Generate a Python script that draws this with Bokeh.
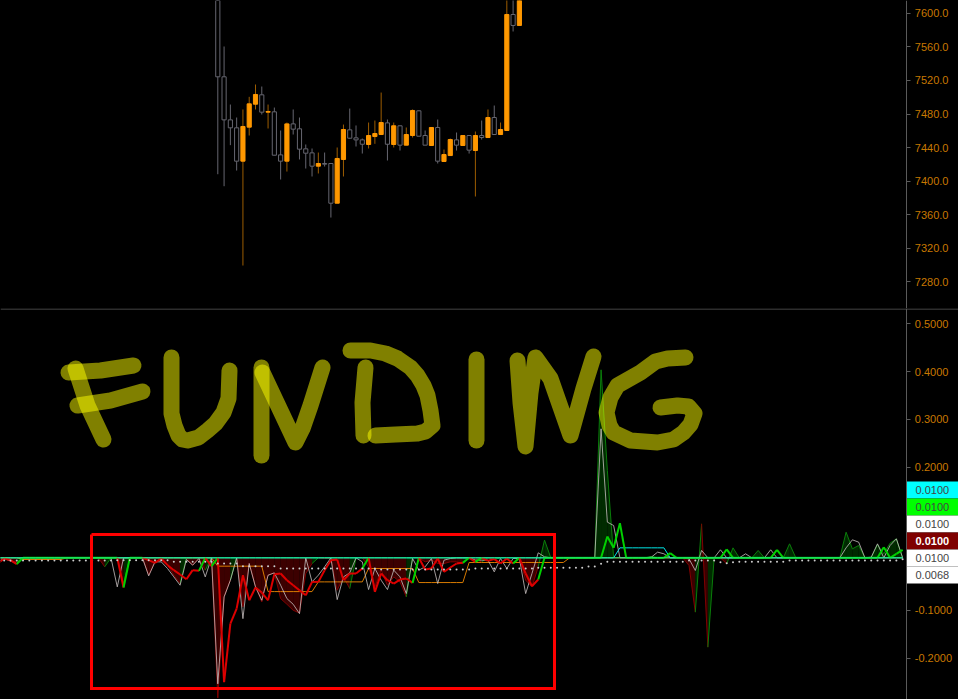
from bokeh.plotting import figure
from bokeh.layouts import column
from bokeh.core.properties import value
from bokeh.models import Range1d, LinearAxis, FixedTicker, NumeralTickFormatter
from bokeh.embed import file_html
from bokeh.resources import INLINE

# ---------- data ----------
candle_index = list(range(35, 84))
highs = [7660,7560.6,7491.3,7475.8,7485.4,7500.5,7515.2,7512.8,7491.3,7487.7,7460.3,7469.8,7485.4,7475.8,7443.6,7438.8,7434.0,7434.0,7420.9,7440.0,7467.4,7486.5,7466.3,7450.7,7469.8,7472.2,7505.6,7473.4,7469.8,7465.9,7463.9,7485.4,7484.2,7460.3,7463.9,7473.4,7437.6,7450.7,7457.9,7454.3,7454.3,7459.1,7472.2,7485.4,7490.1,7469.8,7650,7650,7650]
lows = [7408.1,7393.8,7442.8,7412.5,7299.1,7454.3,7485.4,7479.4,7462.7,7430.8,7401.8,7411.3,7455.5,7425.7,7414.9,7405.4,7409.0,7417.3,7356.4,7373.5,7405.4,7450.7,7441.2,7432.8,7438.8,7444.4,7455.5,7424.5,7440.0,7436.4,7442.8,7451.9,7453.5,7442.8,7442.4,7420.9,7423.3,7430.4,7436.4,7442.4,7432.8,7381.5,7449.5,7451.9,7455.5,7455.5,7460.3,7578.5,7585.7]
body_tops = [7650,7524.4,7473.0,7463.5,7465.1,7492.1,7503.3,7502.9,7483.0,7482.6,7431.2,7468.2,7468.2,7462.3,7438.4,7433.6,7420.9,7420.9,7420.9,7426.9,7461.5,7461.1,7451.5,7449.1,7454.3,7456.7,7469.8,7469.4,7465.9,7465.9,7455.5,7484.2,7483.8,7454.3,7463.9,7463.9,7431.6,7449.5,7449.1,7454.3,7454.3,7454.3,7454.3,7475.8,7475.8,7461.5,7598.8,7598.8,7650]
body_bottoms = [7524.4,7473.0,7463.5,7423.7,7423.7,7464.3,7491.7,7482.2,7482.2,7430.8,7423.7,7423.7,7461.9,7438.0,7433.2,7417.7,7417.7,7420.1,7373.5,7373.5,7425.7,7451.1,7449.1,7443.9,7443.6,7453.1,7455.5,7443.9,7443.6,7442.8,7442.8,7454.3,7453.5,7442.8,7442.4,7423.7,7423.3,7430.4,7442.8,7442.4,7436.8,7436.4,7451.9,7451.9,7455.5,7455.5,7460.3,7585.7,7585.7]
rising = [0,0,0,0,1,1,1,0,1,0,0,1,0,0,0,0,1,0,0,1,1,0,0,0,1,1,1,0,1,0,1,1,0,0,1,0,1,1,0,1,0,1,0,1,0,1,1,0,1]

white_line = [0.0016,0.0086,0.0037,-0.0019,0.01,0.01,0.01,0.01,0.01,0.01,0.01,0.01,0.01,0.01,0.01,0.01,0.01,0.01,0.01,
 -0.0509,0.01,0.01,0.01,0.01,-0.0278,0.0016,0.0016,-0.0124,-0.0299,-0.0474,0.0065,-0.0054,0.0086,-0.0299,0.01,-0.2539,-0.0719,-0.0369,0.01,-0.1174,-0.0019,-0.0509,-0.0789,-0.0264,-0.0215,-0.0474,
 -0.0754,-0.0873,-0.1069,0.01,-0.0404,-0.0264,-0.0089,0.01,-0.0775,-0.0299,-0.0215,0.01,0.0016,-0.0565,-0.0124,-0.0369,-0.0565,-0.0159,-0.0299,-0.0649,0.0086,-0.0159,-0.0089,0.0086,-0.0439,0.0051,0.0086,0.01,0.01,0.01,0.0051,0.0051,0.0051,-0.0194,0.0086,-0.0124,0.0086,0.0086,-0.0649,-0.0229,0.0205,0.0121,0.01,
 0.01,0.01,0.01,0.01,0.01,0.01,0.01,0.2802,0.0847,0.0777,0.01,0.01,0.01,0.01,0.01,0.0114,0.0219,0.0184,0.01,
 0.01,0.01,0.0079,-0.0165,0.0254,0.01,0.01,0.0268,0.01,0.01,0.01,0.0184,0.01,0.01,0.01,0.0268,0.01,0.01,0.01,0.01,0.01,0.01,0.01,0.01,0.01,0.01,0.01,0.0309,0.0477,0.0428,0.01,0.0114,0.0393,0.01,0.0358,0.0498,0.01]

thick_line = [-0.0019,0.0086,0.0051,-0.0033,0.01,0.01,0.01,0.01,0.01,0.01,0.01,0.01,0.01,0.01,0.01,0.01,0.01,0.01,0.01,
 0.01,-0.0523,0.01,0.01,0.01,0.0051,-0.0005,0.0086,-0.0054,-0.0159,-0.025,-0.0348,-0.0159,-0.0173,0.01,-0.0075,0.01,-0.2504,-0.1279,-0.0964,-0.0264,-0.0789,-0.0523,-0.0628,-0.0789,-0.0243,-0.0229,
 -0.0369,-0.0474,-0.0579,-0.0684,-0.0404,-0.0404,-0.0159,0.0051,0.0065,-0.0369,-0.0229,-0.0229,-0.0124,0.01,-0.0614,-0.0229,-0.0369,-0.0439,-0.0355,-0.0334,-0.0425,0.01,-0.0145,-0.0124,0.0086,-0.0194,-0.0103,-0.0019,-0.0005,0.01,0.0016,0.01,0.0037,0.0072,-0.0019,0.0086,-0.0019,0.01,-0.0229,-0.0495,-0.0355,0.01,
 0.01,0.01,0.01,0.01,0.01,0.01,0.01,0.01,0.01,0.0547,0.0309,0.0826,0.01,0.01,0.01,0.01,0.01,0.01,0.01,0.0198,
 0.01,0.01,0.01,0.01,0.01,0.01,0.01,0.01,0.0275,0.01,0.01,0.01,0.01,0.01,0.01,0.01,0.0268,0.01,0.01,0.01,0.01,0.01,0.01,0.01,0.01,0.01,0.01,0.01,0.01,0.01,0.01,0.01,0.01,0.0323,0.01,0.0184,0.0268]

area_line = [0.005,0.008,0.003,0.0016,0.01,0.01,0.01,0.01,0.01,0.01,0.01,0.01,0.01,0.01,0.01,0.01,0.01,-0.0089,0.01,
 0.01,-0.0439,0.01,0.01,0.01,-0.0264,0.0016,0.0051,-0.0054,-0.0264,-0.0439,0.01,-0.0054,0.0086,-0.0159,0.01,-0.2833,-0.0719,-0.0369,0.01,-0.0929,-0.0019,-0.0509,-0.0824,-0.0264,-0.0215,
 -0.0754,-0.0873,-0.0999,-0.1055,-0.0229,-0.0019,0.01,0.0086,0.0086,-0.0579,-0.0299,-0.0544,0.01,0.01,-0.0089,-0.0509,-0.0159,-0.0474,-0.0299,-0.0404,-0.0719,0.01,0.01,0.0016,0.0051,-0.0019,-0.0019,0.0016,0.0016,-0.0019,0.01,0.0065,0.0016,0.01,0.0065,0.01,0.01,0.01,0.01,-0.0369,-0.0509,-0.0089,0.0471,0.01,
 0.01,0.01,0.01,0.01,0.01,0.01,0.01,0.4037,0.1929,0.01,0.01,0.01,0.01,0.01,0.01,0.0128,0.01,0.01,0.01,0.01,0.01,
 -0.0061,-0.1038,0.0812,-0.1771,0.01,0.01,-0.0026,0.0309,0.01,0.01,0.01,0.0254,0.01,0.01,0.01,0.01,0.0393,0.01,0.01,0.01,0.01,0.01,0.01,0.01,0.01,0.0637,0.0288,0.0358,0.01,0.01,0.0379,0.0184,0.0407,0.0498,0.01]

orange_line = [0.01,0.01,0.01,0.01,0.0065,0.0065,0.0065,0.0065,0.0065,0.0065,0.0065,
 0.01,0.01,0.01,0.01,0.01,0.01,0.01,0.01,0.01,0.01,0.01,0.01,0.01,0.01,0.01,0.01,0.01,0.01,0.01,0.01,0.01,0.01,0.01,0.01,
 -0.0075,-0.0075,-0.0075,-0.0075,-0.0075,-0.0075,-0.0075,-0.0075,
 -0.0607,-0.0607,-0.0607,-0.0607,-0.0607,-0.0607,-0.0607,-0.0607,
 -0.0404,-0.0404,-0.0404,-0.0404,-0.0404,-0.0404,-0.0404,-0.0404,
 -0.0124,-0.0124,-0.0124,-0.0124,-0.0124,-0.0124,-0.0124,-0.0124,
 -0.0418,-0.0418,-0.0418,-0.0418,-0.0418,-0.0418,-0.0418,-0.0418,
 0.0002,0.0002,0.0002,0.0002,0.0002,0.0002,0.0002,0.0002,0.0002,0.0002,0.0002,0.0002,0.0002,0.0002,0.0002,0.0002,
 0.01,0.01,0.01,0.01,0.01,0.01,0.01,0.01,0.01,0.01,0.01,0.01,0.01,0.01,0.01,0.01,0.01,0.01,0.01,0.01,0.01,0.01,0.01,0.01,0.01,0.01,0.01,
 0.01,0.01,0.01,0.01,0.01,0.01,0.01,0.01,0.01,0.01,0.01,0.01,0.01,0.01,0.01,0.01,0.01,0.01,0.01,0.01,0.01,0.01,0.01,0.01,0.01,0.01,0.01]

cyan_line = [0.01,0.01,0.01,0.01,0.01,0.01,0.01,0.01,0.01,0.01,0.01,0.01,0.01,0.01,0.01,0.01,0.01,0.01,0.01,0.01,
 0.01,0.01,0.01,0.01,0.01,0.01,0.01,0.01,0.01,0.01,0.01,0.01,0.01,0.01,0.01,0.01,0.01,0.01,0.01,0.01,
 0.01,0.01,0.01,0.01,0.01,0.01,0.01,0.01,0.01,0.01,0.01,0.01,0.01,0.01,0.01,0.01,0.01,0.01,0.01,0.01,
 0.01,0.01,0.01,0.01,0.01,0.01,0.01,0.01,0.01,0.01,0.01,0.01,0.01,0.01,0.01,0.01,0.01,0.01,0.01,0.01,
 0.01,0.01,0.01,0.01,0.01,0.01,0.01,0.01,0.01,0.01,0.01,0.01,0.01,0.01,0.01,0.01,0.01,0.01,0.01,
 0.0309,0.0309,0.0309,0.0309,0.0309,0.0309,0.0309,0.0309,
 0.01,0.01,0.01,0.01,0.01,0.01,0.01,0.01,0.01,0.01,0.01,0.01,0.01,0.01,0.01,0.01,0.01,0.01,0.01,
 0.01,0.01,0.01,0.01,0.01,0.01,0.01,0.01,0.01,0.01,0.01,0.01,0.01,0.01,0.01,0.01,0.01,0.01,0.01]

dot_line = [0.0044,0.0044,0.0044,0.0044,0.0044,0.0044,0.0044,0.0044,0.0044,0.0044,0.0044,0.0044,0.0044,0.0044,0.0044,0.0044,0.0044,0.0044,0.0044,
 0.0051,0.0051,0.0051,0.0051,0.0051,0.0051,0.0051,0.0051,0.0051,
 0.0016,0.0016,0.0016,0.0016,0.0016,0.0016,0.0016,
 -0.0019,-0.0019,-0.0019,-0.0019,
 -0.0075,-0.0075,-0.0075,-0.0075,-0.0075,-0.0075,
 -0.0124,-0.0124,-0.0124,-0.0124,-0.0124,-0.0124,-0.0124,-0.0124,-0.0124,-0.0124,-0.0124,-0.0124,-0.0124,-0.0124,-0.0124,-0.0124,
 -0.0145,-0.0145,-0.0145,-0.0145,-0.0145,-0.0145,-0.0145,-0.0145,-0.0145,-0.0145,-0.0145,-0.0145,-0.0145,-0.0145,-0.0145,
 -0.0124,-0.0124,-0.0124,-0.0124,-0.0124,-0.0124,-0.0124,-0.0124,-0.0124,-0.0124,
 -0.0109,-0.0109,-0.0109,-0.0109,-0.0109,-0.0109,-0.0109,-0.0109,
 -0.0082,-0.0082,-0.0026,
 0.0016,0.0016,0.0016,0.0016,0.0016,0.0016,0.0016,0.0016,0.0016,0.0016,0.0016,0.0016,0.0016,
 0.0044,0.0044,0.0044,0.0044,0.0044,0.0009,-0.0012,0.0009,
 0.0016,0.0016,0.0016,0.0016,0.0016,0.0016,0.0016,0.0016,
 0.0044,0.0044,0.0044,0.0044,0.0044,0.0044,0.0044,0.0044,0.0044,0.0044,0.0044,0.0044,0.0044,0.0044,0.0044,0.0044,0.0044,0.0044,0.0068]

baseline = 0.01
price_ticks = [7280,7320,7360,7400,7440,7480,7520,7560,7600]
funding_ticks = [-0.2,-0.1,0.2,0.3,0.4,0.5]
last_labels = ["0.0100","0.0100","0.0100","0.0100","0.0100","0.0068"]
last_fills = ["#00ffff","#00ff00","#ffffff","#7f0000","#ffffff","#ffffff"]
last_text = ["#444444","#444444","#444444","#ffffff","#444444","#444444"]

# handwritten annotation strokes, in page pixels
ink = [
 [(68,372),(100,370),(133,365)],
 [(75,368),(87,405),(103,439)],
 [(77,405),(110,400),(142,391)],
 [(171,357),(171,413),(174,425),(178,435),(182,439),(187,440),(198,437),(207,430),(215,423),(223,412),(228,398),(229,370)],
 [(261,367),(261,455)],
 [(262,372),(295,442),(302,428),(310,405),(322,367)],
 [(365,367),(362,402),(363,435)],
 [(350,350),(370,350),(385,353),(397,358),(410,367),(417,375),(423,385),(427,395),(430,410),(432,425),(425,431),(417,433),(395,434),(375,435)],
 [(476,359),(476,440)],
 [(517,360),(520,402),(525,446),(530,392),(535,357),(550,378),(570,435),(583,388),(593,356)],
 [(685,357),(667,358),(655,361),(640,372),(617,385),(610,397),(606,412),(609,425),(613,432),(630,440),(657,442),(673,439),(683,432),(690,424),(694,413),(688,406),(677,405),(660,407)],
]
frame_box = [(91,534),(554,534),(554,688),(91,688),(91,534)]
separator = [(0,308.5),(958,308.5)]

assert len(white_line) == len(thick_line) == len(area_line) == len(orange_line) == len(cyan_line) == len(dot_line) == 145

K = list(range(145))
X0, X1 = 0.414, 152.89
AXIS_X = 144.66
FONT = "Liberation Sans"

def style(p):
    p.background_fill_color = "#000000"
    p.border_fill_color = "#000000"
    p.outline_line_color = None
    p.grid.visible = False
    p.min_border_left = 0
    p.min_border_top = 0
    p.min_border_bottom = 0
    p.min_border_right = 0
    p.styles = {"background-color": "#000000"}

def right_axis(p, ticks, fmt):
    ax = LinearAxis(ticker=FixedTicker(ticks=ticks), formatter=NumeralTickFormatter(format=fmt),
                    fixed_location=AXIS_X)
    ax.axis_line_color = "#5a5a5a"
    ax.major_tick_line_color = "#5a5a5a"
    ax.major_tick_out = 4
    ax.major_tick_in = 0
    ax.minor_tick_line_color = None
    ax.major_label_standoff = 4
    ax.major_label_text_color = "#c87800"
    ax.major_label_text_font = FONT
    ax.major_label_text_font_size = "11px"
    p.add_layout(ax, "right")

# ---------- price panel ----------
top = figure(width=958, height=308, x_range=Range1d(X0, X1), y_range=Range1d(7247.8, 7615.5),
             output_backend="svg", toolbar_location=None, x_axis_location=None, y_axis_location=None)
style(top)
right_axis(top, price_ticks, "0.0")

wick_cols = ["#9c5c00" if r else "#666670" for r in rising]
top.segment(candle_index, lows, candle_index, highs, line_color=wick_cols, line_width=1)
top.vbar(x=candle_index, width=0.66, bottom=body_bottoms, top=body_tops,
         fill_color=["#ff9800" if r else "#000000" for r in rising],
         line_color=["#ff9800" if r else "#666670" for r in rising], line_width=1)

# ---------- funding panel ----------
low = figure(width=958, height=391, x_range=Range1d(X0, X1), y_range=Range1d(-0.2867, 0.5321),
             output_backend="svg", toolbar_location=None, x_axis_location=None, y_axis_location=None)
style(low)
right_axis(low, funding_ticks, "0.0000")
low.extra_x_ranges = {"px": Range1d(0, 958)}
low.extra_y_ranges = {"px": Range1d(699, 308)}

# shaded area, one slice per bar
xs, ys, cols, edges = [], [], [], []
for k in K[:-1]:
    a, b = area_line[k], area_line[k + 1]
    if a == baseline and b == baseline:
        continue
    green = b >= baseline
    xs.append([k, k, k + 1, k + 1])
    ys.append([baseline, a, b, baseline])
    cols.append("#002b00" if green else "#3c0000")
    edges.append("#0a7d0a" if green else "#800000")
low.patches(xs, ys, fill_color=cols, line_color=None)
low.segment([x[1] for x in xs], [y[1] for y in ys], [x[2] for x in xs], [y[2] for y in ys],
            line_color=edges, line_width=1)

low.line(K, orange_line, line_color="#d87a00", line_width=1)
low.line(K, white_line, line_color="#c8c0c0", line_width=1, line_alpha=0.8)
low.line(K, cyan_line, line_color="#00e5e5", line_width=1)

t_cols = ["#00d000" if thick_line[k + 1] >= baseline else "#dd0000" for k in K[:-1]]
low.segment(K[:-1], thick_line[:-1], K[1:], thick_line[1:], line_color=t_cols, line_width=2)
low.line(K, [baseline] * len(K), line_color="#22ee88", line_width=1)
low.scatter(K, dot_line, size=2, marker="circle", fill_color="#cfcfcf", line_color=None)

# red frame and handwriting, in page pixels
low.line([q[0] for q in frame_box], [q[1] for q in frame_box], x_range_name="px", y_range_name="px",
         line_color="#ff0000", line_width=3, line_join="miter")
for stroke in ink:
    low.line([q[0] for q in stroke], [q[1] for q in stroke], x_range_name="px", y_range_name="px",
             line_color="#ffff00", line_alpha=0.5, line_width=16, line_cap="round", line_join="round")

# separator and last-value boxes
low.line([q[0] for q in separator], [q[1] for q in separator], x_range_name="px", y_range_name="px",
         line_color="#5a5a5a", line_width=1)
tops_px = [481 + 17 * i for i in range(6)]
low.quad(left=[906.5] * 6, right=[958] * 6, top=tops_px, bottom=[t + 17 for t in tops_px],
         x_range_name="px", y_range_name="px", fill_color=last_fills, line_color=None)
for i, t in enumerate(tops_px):
    low.text(x=[915], y=[t + 8.5], text=[last_labels[i]], x_range_name="px", y_range_name="px",
             text_color=last_text[i], text_font=value(FONT), text_font_size="11px",
             text_font_style="bold" if last_text[i] == "#ffffff" else "normal",
             text_baseline="middle", text_align="left")

page = column(top, low, spacing=0, styles={"background-color": "#000000"})
open("out.html", "w").write(file_html(page, INLINE))
